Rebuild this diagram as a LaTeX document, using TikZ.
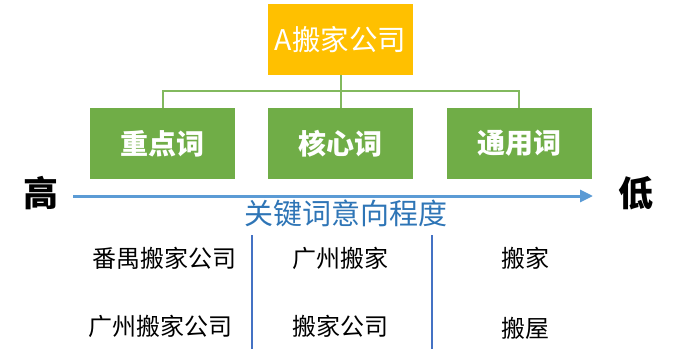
\documentclass[tikz,border=0pt]{standalone}
\usepackage{fontspec}
\newfontfamily\cjk{Noto Sans CJK SC}
\usetikzlibrary{arrows.meta}
\definecolor{gold}{HTML}{FFC000}
\definecolor{leaf}{HTML}{70AD47}
\definecolor{leafline}{HTML}{82B95E}
\definecolor{sky}{HTML}{5B9BD5}
\definecolor{deepsky}{HTML}{2E75B6}
\definecolor{divider}{HTML}{4472C4}
\begin{document}
\begin{tikzpicture}[
	x=1pt, y=-1pt,
	topbox/.style={ fill=gold, text=white, minimum width=145pt, minimum height=71pt, inner sep=0pt, font=\cjk\fontsize{28.5}{31}\selectfont },
	catbox/.style={ fill=leaf, text=white, minimum width=145pt, minimum height=71pt, inner sep=0pt, font=\cjk\bfseries\fontsize{28}{32}\selectfont },
	endword/.style={ inner sep=0pt, font=\cjk\bfseries\fontsize{35}{38}\selectfont },
	keyword/.style={ inner sep=0pt, font=\cjk\fontsize{24}{28}\selectfont },
	tree/.style={ leafline, line width=2pt },
	scale arrow/.style={ sky, line width=3pt, -{Triangle[length=13pt,width=12pt]} },
	sep/.style={ divider, line width=1.2pt }
]
\useasboundingbox (0,0) rectangle (678,359);

\node at (340.5,39.5) (top) [topbox] {A搬家公司};
\node at (162.5,143.5) (zhong) [catbox] {重点词};
\node at (340.5,143.5) (hexin) [catbox] {核心词};
\node at (519,143.5) (tongyong) [catbox] {通用词};
\coordinate (split) at (340.5,91);
\draw[tree] (top.south) -- (split);
\draw[tree] (split) -| (zhong.north);
\draw[tree] (split) -- (hexin.north);
\draw[tree] (split) -| (tongyong.north);

\node at (41,193) (gao) [endword] {高};
\node at (636,193) (di) [endword] {低};
\coordinate (arrowstart) at (73,196);
\coordinate (arrowend) at (593,196);
\draw[scale arrow] (arrowstart) -- (arrowend);
\node at (346,213) (yixiang) [inner sep=0pt, text=deepsky, font=\cjk\fontsize{29}{32}\selectfont] {关键词意向程度};

\coordinate (sepa) at (252,235);
\coordinate (sepb) at (252,349);
\coordinate (sepc) at (432,235);
\coordinate (sepd) at (432,349);
\draw[sep] (sepa) -- (sepb);
\draw[sep] (sepc) -- (sepd);

\node at (237,258) (panyu) [keyword,anchor=east] {番禺搬家公司};
\node at (233,326) (gzgs) [keyword,anchor=east] {广州搬家公司};
\node at (340,258) (gzbj) [keyword] {广州搬家};
\node at (340,326) (bjgs) [keyword] {搬家公司};
\node at (525,258) (banjia) [keyword] {搬家};
\node at (525,328) (banwu) [keyword] {搬屋};

\end{tikzpicture}
\end{document}
